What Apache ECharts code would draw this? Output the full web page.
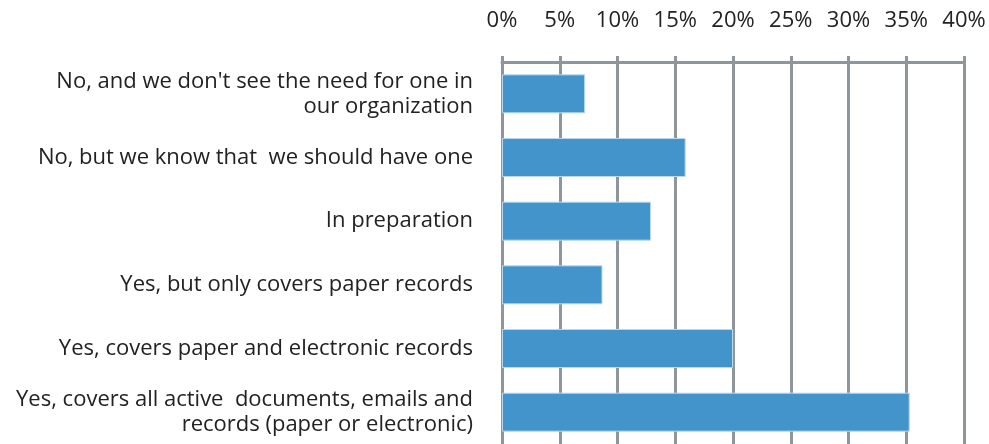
<!DOCTYPE html>
<html><head><meta charset="utf-8">
<script src="https://cdn.jsdelivr.net/npm/echarts@6/dist/echarts.min.js"></script>
<style>html,body{margin:0;padding:0;background:#fff}#c{width:989px;height:444px}</style>
</head><body><div id="c"></div>
<script>
const categories = [
  "No, and we don't see the need for one in\nour organization",
  "No, but we know that  we should have one",
  "In preparation",
  "Yes, but only covers paper records",
  "Yes, covers paper and electronic records",
  "Yes, covers all active  documents, emails and\nrecords (paper or electronic)"
];
const values = [7.2, 15.9, 12.9, 8.7, 20.0, 35.3];
const xTicks = {min: 0, max: 40, interval: 5};

const gray = '#8e969c';
const chart = echarts.init(document.getElementById('c'), null, {renderer: 'canvas'});
chart.setOption({
  animation: false,
  grid: {left: 502, right: 25, top: 62, height: 384, containLabel: false},
  xAxis: {
    type: 'value', position: 'top', min: xTicks.min, max: xTicks.max, interval: xTicks.interval,
    axisLine: {show: true, lineStyle: {color: gray, width: 3}},
    axisTick: {show: true, length: 6, lineStyle: {color: gray, width: 3}},
    splitLine: {show: true, lineStyle: {color: gray, width: 3}},
    axisLabel: {formatter: '{value}%', color: '#222', fontSize: 22, fontFamily: 'Open Sans', margin: 30}
  },
  yAxis: {
    type: 'category', data: categories, inverse: true,
    axisLine: {show: true, lineStyle: {color: gray, width: 3}},
    axisTick: {show: false},
    axisLabel: {color: '#222', fontSize: 22, fontFamily: 'Open Sans', margin: 29, lineHeight: 25, align: 'right'}
  },
  series: [{
    type: 'bar', data: values, barWidth: 39,
    itemStyle: {color: '#4494cc', borderColor: '#b9d8ee', borderWidth: 1}
  }]
});
</script></body></html>
